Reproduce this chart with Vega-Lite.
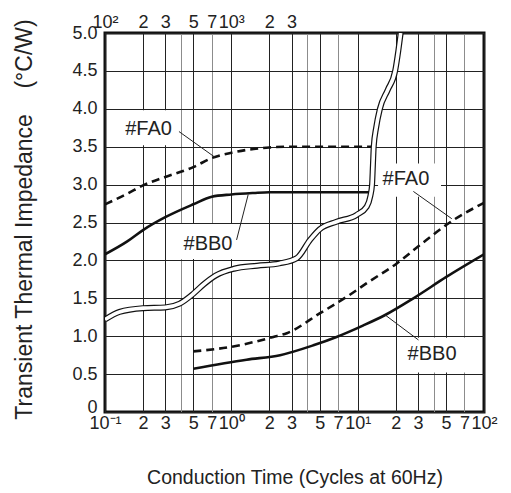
{
  "$schema": "https://vega.github.io/schema/vega-lite/v6.json",
  "width": 379,
  "height": 379,
  "autosize": {"type": "none"},
  "padding": {"left": 105, "top": 33, "right": 27, "bottom": 81},
  "background": "white",
  "config": {"view": {"stroke": "#111", "strokeWidth": 3}, "font": "Liberation Sans"},
  "datasets": {
    "curves": [
      {"s": "FA0u", "x": 0.1, "y": 2.74}, {"s": "FA0u", "x": 0.15, "y": 2.88}, {"s": "FA0u", "x": 0.2, "y": 2.99},
      {"s": "FA0u", "x": 0.3, "y": 3.1}, {"s": "FA0u", "x": 0.5, "y": 3.23}, {"s": "FA0u", "x": 0.7, "y": 3.35},
      {"s": "FA0u", "x": 1, "y": 3.42}, {"s": "FA0u", "x": 1.5, "y": 3.47}, {"s": "FA0u", "x": 2, "y": 3.49},
      {"s": "FA0u", "x": 3, "y": 3.5}, {"s": "FA0u", "x": 5, "y": 3.5}, {"s": "FA0u", "x": 13.2, "y": 3.5},
      {"s": "BB0u", "x": 0.1, "y": 2.08}, {"s": "BB0u", "x": 0.15, "y": 2.25}, {"s": "BB0u", "x": 0.2, "y": 2.4},
      {"s": "BB0u", "x": 0.3, "y": 2.57}, {"s": "BB0u", "x": 0.5, "y": 2.74}, {"s": "BB0u", "x": 0.7, "y": 2.84},
      {"s": "BB0u", "x": 1, "y": 2.87}, {"s": "BB0u", "x": 1.5, "y": 2.89}, {"s": "BB0u", "x": 2, "y": 2.9},
      {"s": "BB0u", "x": 5, "y": 2.9}, {"s": "BB0u", "x": 12.3, "y": 2.9},
      {"s": "FA0l", "x": 0.5, "y": 0.8}, {"s": "FA0l", "x": 1, "y": 0.86}, {"s": "FA0l", "x": 2.15, "y": 0.99},
      {"s": "FA0l", "x": 2.75, "y": 1.04}, {"s": "FA0l", "x": 5, "y": 1.3}, {"s": "FA0l", "x": 8.2, "y": 1.52},
      {"s": "FA0l", "x": 11.8, "y": 1.7}, {"s": "FA0l", "x": 20.4, "y": 1.96}, {"s": "FA0l", "x": 31, "y": 2.2},
      {"s": "FA0l", "x": 57, "y": 2.53}, {"s": "FA0l", "x": 100, "y": 2.76},
      {"s": "BB0l", "x": 0.5, "y": 0.57}, {"s": "BB0l", "x": 1.32, "y": 0.69}, {"s": "BB0l", "x": 2.43, "y": 0.75},
      {"s": "BB0l", "x": 4.46, "y": 0.88}, {"s": "BB0l", "x": 6.8, "y": 0.99}, {"s": "BB0l", "x": 11, "y": 1.14},
      {"s": "BB0l", "x": 16.5, "y": 1.28}, {"s": "BB0l", "x": 27.6, "y": 1.5}, {"s": "BB0l", "x": 50.7, "y": 1.785},
      {"s": "BB0l", "x": 100, "y": 2.08},
      {"s": "dbl", "x": 0.1, "y": 1.22}, {"s": "dbl", "x": 0.13, "y": 1.32}, {"s": "dbl", "x": 0.2, "y": 1.37},
      {"s": "dbl", "x": 0.3, "y": 1.38}, {"s": "dbl", "x": 0.39, "y": 1.43}, {"s": "dbl", "x": 0.5, "y": 1.56},
      {"s": "dbl", "x": 0.6, "y": 1.68}, {"s": "dbl", "x": 0.75, "y": 1.8}, {"s": "dbl", "x": 1.05, "y": 1.89},
      {"s": "dbl", "x": 1.6, "y": 1.93}, {"s": "dbl", "x": 2.4, "y": 1.96}, {"s": "dbl", "x": 3.3, "y": 2.03},
      {"s": "dbl", "x": 4.2, "y": 2.27}, {"s": "dbl", "x": 5, "y": 2.41}, {"s": "dbl", "x": 6.8, "y": 2.51},
      {"s": "dbl", "x": 9.8, "y": 2.6}, {"s": "dbl", "x": 11.8, "y": 2.71}, {"s": "dbl", "x": 12.6, "y": 2.85},
      {"s": "dbl", "x": 13.0, "y": 3.0}, {"s": "dbl", "x": 13.2, "y": 3.25}, {"s": "dbl", "x": 13.4, "y": 3.5},
      {"s": "dbl", "x": 14, "y": 3.75}, {"s": "dbl", "x": 15, "y": 4.0}, {"s": "dbl", "x": 17.3, "y": 4.25},
      {"s": "dbl", "x": 19.8, "y": 4.5}, {"s": "dbl", "x": 21, "y": 4.77}, {"s": "dbl", "x": 21.9, "y": 5.0}
    ],
    "boxes": [
      {"x1": 0.11, "x2": 0.36, "y1": 3.52, "y2": 3.98},
      {"x1": 0.33, "x2": 1.28, "y1": 2.02, "y2": 2.48},
      {"x1": 14.5, "x2": 45.7, "y1": 2.84, "y2": 3.28},
      {"x1": 21, "x2": 95, "y1": 0.52, "y2": 0.98}
    ],
    "labels": [
      {"t": "#FA0", "x": 0.221, "y": 3.73},
      {"t": "#BB0", "x": 0.654, "y": 2.22},
      {"t": "#FA0", "x": 24.1, "y": 3.07},
      {"t": "#BB0", "x": 38.8, "y": 0.765}
    ],
    "leaders": [
      {"x1": 0.385, "y1": 3.7, "x2": 0.743, "y2": 3.36},
      {"x1": 1.1, "y1": 2.27, "x2": 1.36, "y2": 2.87},
      {"x1": 27.6, "y1": 2.91, "x2": 55.6, "y2": 2.55},
      {"x1": 30.3, "y1": 0.95, "x2": 16.5, "y2": 1.28}
    ]
  },
  "resolve": {"axis": {"x": "independent", "y": "independent"}},
  "layer": [
    {
      "data": {"name": "boxes"},
      "mark": {"type": "rect", "fill": "white", "stroke": null},
      "encoding": {
        "x": {
          "field": "x1", "type": "quantitative",
          "scale": {"type": "log", "domain": [0.1, 100]},
          "axis": {
            "orient": "bottom",
            "values": [0.1, 0.2, 0.3, 0.4, 0.5, 0.7, 1, 2, 3, 4, 5, 7, 10, 20, 30, 40, 50, 70, 100],
            "labelExpr": "datum.value==0.1?'10⁻¹':datum.value==1?'10⁰':datum.value==10?'10¹':datum.value==100?'10²':(indexof([0.4,4,40],datum.value)>=0?'':format(datum.value/pow(10,floor(log(datum.value)/LN10+1e-9)),'.0f'))",
            "title": "Conduction Time (Cycles at 60Hz)",
            "titleFont": "Liberation Sans", "titleFontSize": 19.5, "titleFontWeight": "normal", "titleColor": "#222",
            "titleX": 189.5, "titleY": 71, "titleAlign": "center", "titleBaseline": "alphabetic",
            "ticks": false, "tickSize": 0, "domain": false,
            "labelFont": "Liberation Sans", "labelFontSize": 18, "labelColor": "#222",
            "labelPadding": 16, "labelBaseline": "alphabetic", "labelFlush": false, "labelOverlap": false, "labelBound": false,
            "grid": true,
            "gridColor": {"condition": {"test": "indexof([0.4,4,40,0.7,7,70],datum.value)>=0", "value": "#8c8c8c"}, "value": "#222"},
            "gridWidth": 1, "gridOpacity": 1
          }
        },
        "x2": {"field": "x2"},
        "y": {
          "field": "y1", "type": "quantitative",
          "scale": {"domain": [0, 5], "nice": false},
          "axis": {
            "values": [0, 0.5, 1, 1.5, 2, 2.5, 3, 3.5, 4, 4.5, 5],
            "labelExpr": "datum.value==0?'0':format(datum.value,'.1f')",
            "title": "Transient Thermal Impedance\u00a0\u00a0\u00a0\u00a0(°C/W)",
            "titleFont": "Liberation Sans", "titleFontSize": 23, "titleFontWeight": "normal", "titleColor": "#222",
            "titleX": -81, "titleY": 186, "titleAngle": -90, "titleAlign": "center", "titleBaseline": "middle",
            "ticks": false, "tickSize": 0, "domain": false,
            "labelFont": "Liberation Sans", "labelFontSize": 18, "labelColor": "#222", "labelPadding": 8,
            "labelBaseline": {"condition": {"test": "datum.value==0", "value": "alphabetic"}, "value": "middle"},
            "labelOverlap": false, "labelFlush": false, "labelBound": false,
            "grid": true, "gridColor": "#222", "gridWidth": 1, "gridOpacity": 1
          }
        },
        "y2": {"field": "y2"}
      }
    },
    {
      "data": {"name": "curves"},
      "transform": [{"filter": "datum.s=='FA0u' || datum.s=='FA0l'"}],
      "mark": {"type": "line", "interpolate": "monotone", "color": "#111", "strokeWidth": 2.6, "strokeDash": [8, 5], "clip": true},
      "encoding": {
        "x": {"field": "x", "type": "quantitative", "scale": {"type": "log", "domain": [0.1, 100]}, "axis": null},
        "y": {"field": "y", "type": "quantitative", "scale": {"domain": [0, 5], "nice": false}, "axis": null},
        "detail": {"field": "s"}
      }
    },
    {
      "data": {"name": "curves"},
      "transform": [{"filter": "datum.s=='BB0u' || datum.s=='BB0l'"}],
      "mark": {"type": "line", "interpolate": "monotone", "color": "#111", "strokeWidth": 2.6, "clip": true},
      "encoding": {
        "x": {"field": "x", "type": "quantitative", "scale": {"type": "log", "domain": [0.1, 100]}, "axis": null},
        "y": {"field": "y", "type": "quantitative", "scale": {"domain": [0, 5], "nice": false}, "axis": null},
        "detail": {"field": "s"}
      }
    },
    {
      "data": {"name": "curves"},
      "transform": [{"filter": "datum.s=='dbl'"}],
      "mark": {"type": "line", "interpolate": "monotone", "color": "#111", "strokeWidth": 6, "clip": true},
      "encoding": {
        "x": {"field": "x", "type": "quantitative", "scale": {"type": "log", "domain": [0.1, 100]}, "axis": null},
        "y": {"field": "y", "type": "quantitative", "scale": {"domain": [0, 5], "nice": false}, "axis": null}
      }
    },
    {
      "data": {"name": "curves"},
      "transform": [{"filter": "datum.s=='dbl'"}],
      "mark": {"type": "line", "interpolate": "monotone", "color": "white", "strokeWidth": 3.6, "clip": true},
      "encoding": {
        "x": {"field": "x", "type": "quantitative", "scale": {"type": "log", "domain": [0.1, 100]}, "axis": null},
        "y": {"field": "y", "type": "quantitative", "scale": {"domain": [0, 5], "nice": false}, "axis": null}
      }
    },
    {
      "data": {"name": "leaders"},
      "mark": {"type": "rule", "color": "#222", "strokeWidth": 1},
      "encoding": {
        "x": {"field": "x1", "type": "quantitative", "scale": {"type": "log", "domain": [0.1, 100]}, "axis": null},
        "x2": {"field": "x2"},
        "y": {"field": "y1", "type": "quantitative", "scale": {"domain": [0, 5], "nice": false}, "axis": null},
        "y2": {"field": "y2"}
      }
    },
    {
      "data": {"name": "labels"},
      "mark": {"type": "text", "font": "Liberation Sans", "fontSize": 20, "color": "#222", "align": "center", "baseline": "middle"},
      "encoding": {
        "x": {
          "field": "x", "type": "quantitative", "scale": {"type": "log", "domain": [0.1, 100]},
          "axis": {
            "orient": "top",
            "values": [0.1, 0.2, 0.3, 0.5, 0.7, 1, 2, 3],
            "labelExpr": "datum.value==0.1?'10²':datum.value==1?'10³':format(datum.value>=1?datum.value:datum.value*10,'.0f')",
            "title": null, "grid": false, "ticks": false, "tickSize": 0, "domain": false,
            "labelFont": "Liberation Sans", "labelFontSize": 18, "labelColor": "#222",
            "labelPadding": 6, "labelBaseline": "alphabetic", "labelFlush": false, "labelOverlap": false, "labelBound": false
          }
        },
        "y": {"field": "y", "type": "quantitative", "scale": {"domain": [0, 5], "nice": false}, "axis": null},
        "text": {"field": "t"}
      }
    }
  ]
}
